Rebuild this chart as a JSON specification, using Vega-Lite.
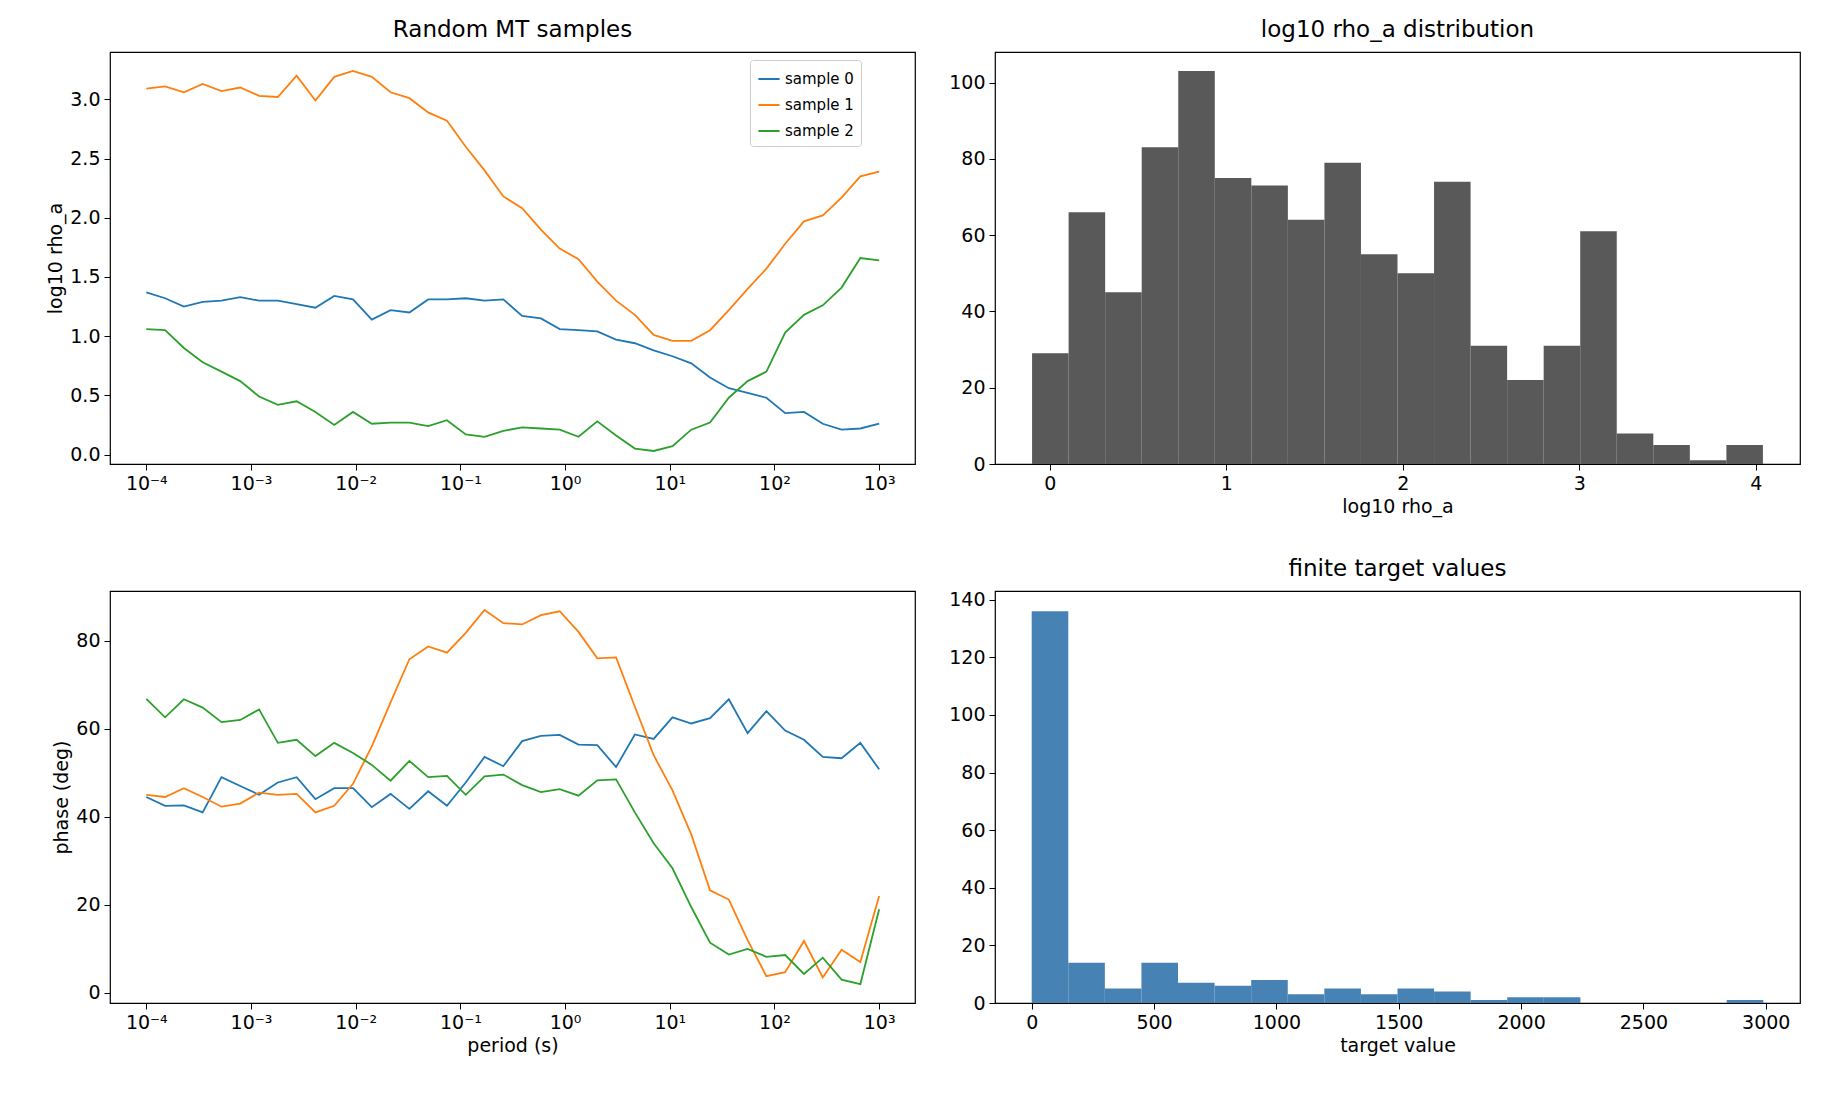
{
  "$schema": "https://vega.github.io/schema/vega-lite/v6.json",
  "background": "white",
  "padding": {"left": 46, "top": 18, "right": 12, "bottom": 5},
  "spacing": 40,
  "datasets": {
    "rho": [
      {"p": 0.0001, "sample 0": 1.37, "sample 1": 3.09, "sample 2": 1.06},
      {"p": 0.0001512, "sample 0": 1.32, "sample 1": 3.11, "sample 2": 1.05},
      {"p": 0.0002285, "sample 0": 1.25, "sample 1": 3.06, "sample 2": 0.90},
      {"p": 0.0003455, "sample 0": 1.29, "sample 1": 3.13, "sample 2": 0.78},
      {"p": 0.0005223, "sample 0": 1.30, "sample 1": 3.07, "sample 2": 0.70},
      {"p": 0.0007896, "sample 0": 1.33, "sample 1": 3.10, "sample 2": 0.62},
      {"p": 0.001194, "sample 0": 1.30, "sample 1": 3.03, "sample 2": 0.49},
      {"p": 0.001805, "sample 0": 1.30, "sample 1": 3.02, "sample 2": 0.42},
      {"p": 0.002728, "sample 0": 1.27, "sample 1": 3.20, "sample 2": 0.45},
      {"p": 0.004125, "sample 0": 1.24, "sample 1": 2.99, "sample 2": 0.36},
      {"p": 0.006236, "sample 0": 1.34, "sample 1": 3.19, "sample 2": 0.25},
      {"p": 0.009427, "sample 0": 1.31, "sample 1": 3.24, "sample 2": 0.36},
      {"p": 0.01425, "sample 0": 1.14, "sample 1": 3.19, "sample 2": 0.26},
      {"p": 0.02154, "sample 0": 1.22, "sample 1": 3.06, "sample 2": 0.27},
      {"p": 0.03257, "sample 0": 1.20, "sample 1": 3.01, "sample 2": 0.27},
      {"p": 0.04924, "sample 0": 1.31, "sample 1": 2.89, "sample 2": 0.24},
      {"p": 0.07443, "sample 0": 1.31, "sample 1": 2.82, "sample 2": 0.29},
      {"p": 0.1125, "sample 0": 1.32, "sample 1": 2.60, "sample 2": 0.17},
      {"p": 0.1701, "sample 0": 1.30, "sample 1": 2.40, "sample 2": 0.15},
      {"p": 0.2572, "sample 0": 1.31, "sample 1": 2.18, "sample 2": 0.20},
      {"p": 0.3888, "sample 0": 1.17, "sample 1": 2.08, "sample 2": 0.23},
      {"p": 0.5878, "sample 0": 1.15, "sample 1": 1.90, "sample 2": 0.22},
      {"p": 0.8886, "sample 0": 1.06, "sample 1": 1.74, "sample 2": 0.21},
      {"p": 1.3434, "sample 0": 1.05, "sample 1": 1.65, "sample 2": 0.15},
      {"p": 2.031, "sample 0": 1.04, "sample 1": 1.46, "sample 2": 0.28},
      {"p": 3.070, "sample 0": 0.97, "sample 1": 1.30, "sample 2": 0.16},
      {"p": 4.642, "sample 0": 0.94, "sample 1": 1.18, "sample 2": 0.05},
      {"p": 7.017, "sample 0": 0.88, "sample 1": 1.01, "sample 2": 0.03},
      {"p": 10.61, "sample 0": 0.83, "sample 1": 0.96, "sample 2": 0.07},
      {"p": 16.04, "sample 0": 0.77, "sample 1": 0.96, "sample 2": 0.21},
      {"p": 24.24, "sample 0": 0.65, "sample 1": 1.05, "sample 2": 0.27},
      {"p": 36.65, "sample 0": 0.56, "sample 1": 1.22, "sample 2": 0.48},
      {"p": 55.41, "sample 0": 0.52, "sample 1": 1.40, "sample 2": 0.62},
      {"p": 83.77, "sample 0": 0.48, "sample 1": 1.57, "sample 2": 0.70},
      {"p": 126.6, "sample 0": 0.35, "sample 1": 1.78, "sample 2": 1.03},
      {"p": 191.4, "sample 0": 0.36, "sample 1": 1.97, "sample 2": 1.18},
      {"p": 289.4, "sample 0": 0.26, "sample 1": 2.02, "sample 2": 1.26},
      {"p": 437.5, "sample 0": 0.21, "sample 1": 2.17, "sample 2": 1.41},
      {"p": 661.4, "sample 0": 0.22, "sample 1": 2.35, "sample 2": 1.66},
      {"p": 1000, "sample 0": 0.26, "sample 1": 2.39, "sample 2": 1.64}
    ],
    "phase": [
      {"p": 0.0001, "sample 0": 44.5, "sample 1": 45.0, "sample 2": 66.8},
      {"p": 0.0001512, "sample 0": 42.5, "sample 1": 44.5, "sample 2": 62.6},
      {"p": 0.0002285, "sample 0": 42.6, "sample 1": 46.5, "sample 2": 66.7},
      {"p": 0.0003455, "sample 0": 41.0, "sample 1": 44.5, "sample 2": 64.8},
      {"p": 0.0005223, "sample 0": 49.0, "sample 1": 42.3, "sample 2": 61.5},
      {"p": 0.0007896, "sample 0": 47.0, "sample 1": 43.0, "sample 2": 62.0},
      {"p": 0.001194, "sample 0": 45.0, "sample 1": 45.5, "sample 2": 64.4},
      {"p": 0.001805, "sample 0": 47.8, "sample 1": 45.0, "sample 2": 56.8},
      {"p": 0.002728, "sample 0": 49.0, "sample 1": 45.2, "sample 2": 57.5},
      {"p": 0.004125, "sample 0": 44.0, "sample 1": 41.0, "sample 2": 53.8},
      {"p": 0.006236, "sample 0": 46.5, "sample 1": 42.5, "sample 2": 56.8},
      {"p": 0.009427, "sample 0": 46.5, "sample 1": 47.5, "sample 2": 54.5},
      {"p": 0.01425, "sample 0": 42.2, "sample 1": 56.0, "sample 2": 51.8},
      {"p": 0.02154, "sample 0": 45.2, "sample 1": 66.0, "sample 2": 48.2},
      {"p": 0.03257, "sample 0": 41.8, "sample 1": 75.8, "sample 2": 52.7},
      {"p": 0.04924, "sample 0": 45.8, "sample 1": 78.7, "sample 2": 49.0},
      {"p": 0.07443, "sample 0": 42.5, "sample 1": 77.3, "sample 2": 49.3},
      {"p": 0.1125, "sample 0": 47.8, "sample 1": 81.8, "sample 2": 45.0},
      {"p": 0.1701, "sample 0": 53.6, "sample 1": 87.0, "sample 2": 49.2},
      {"p": 0.2572, "sample 0": 51.5, "sample 1": 84.0, "sample 2": 49.6},
      {"p": 0.3888, "sample 0": 57.2, "sample 1": 83.7, "sample 2": 47.2},
      {"p": 0.5878, "sample 0": 58.4, "sample 1": 85.8, "sample 2": 45.6},
      {"p": 0.8886, "sample 0": 58.6, "sample 1": 86.7, "sample 2": 46.3},
      {"p": 1.3434, "sample 0": 56.4, "sample 1": 82.0, "sample 2": 44.8},
      {"p": 2.031, "sample 0": 56.3, "sample 1": 76.0, "sample 2": 48.3},
      {"p": 3.070, "sample 0": 51.3, "sample 1": 76.2, "sample 2": 48.5},
      {"p": 4.642, "sample 0": 58.7, "sample 1": 65.0, "sample 2": 41.0},
      {"p": 7.017, "sample 0": 57.7, "sample 1": 54.0, "sample 2": 34.0},
      {"p": 10.61, "sample 0": 62.6, "sample 1": 46.0, "sample 2": 28.3},
      {"p": 16.04, "sample 0": 61.2, "sample 1": 36.0, "sample 2": 19.5},
      {"p": 24.24, "sample 0": 62.4, "sample 1": 23.3, "sample 2": 11.4},
      {"p": 36.65, "sample 0": 66.7, "sample 1": 21.2, "sample 2": 8.7},
      {"p": 55.41, "sample 0": 59.0, "sample 1": 12.0, "sample 2": 10.0},
      {"p": 83.77, "sample 0": 64.0, "sample 1": 3.8, "sample 2": 8.2},
      {"p": 126.6, "sample 0": 59.6, "sample 1": 4.7, "sample 2": 8.6},
      {"p": 191.4, "sample 0": 57.5, "sample 1": 11.8, "sample 2": 4.3},
      {"p": 289.4, "sample 0": 53.6, "sample 1": 3.5, "sample 2": 8.0},
      {"p": 437.5, "sample 0": 53.3, "sample 1": 9.8, "sample 2": 3.0},
      {"p": 661.4, "sample 0": 56.8, "sample 1": 7.0, "sample 2": 2.0},
      {"p": 1000, "sample 0": 50.8, "sample 1": 22.0, "sample 2": 19.0}
    ],
    "rhohist": [
      {"a": -0.10, "b": 0.107, "n": 29}, {"a": 0.107, "b": 0.314, "n": 66},
      {"a": 0.314, "b": 0.521, "n": 45}, {"a": 0.521, "b": 0.728, "n": 83},
      {"a": 0.728, "b": 0.935, "n": 103}, {"a": 0.935, "b": 1.142, "n": 75},
      {"a": 1.142, "b": 1.349, "n": 73}, {"a": 1.349, "b": 1.556, "n": 64},
      {"a": 1.556, "b": 1.763, "n": 79}, {"a": 1.763, "b": 1.970, "n": 55},
      {"a": 1.970, "b": 2.177, "n": 50}, {"a": 2.177, "b": 2.384, "n": 74},
      {"a": 2.384, "b": 2.591, "n": 31}, {"a": 2.591, "b": 2.798, "n": 22},
      {"a": 2.798, "b": 3.005, "n": 31}, {"a": 3.005, "b": 3.212, "n": 61},
      {"a": 3.212, "b": 3.419, "n": 8}, {"a": 3.419, "b": 3.626, "n": 5},
      {"a": 3.626, "b": 3.833, "n": 1}, {"a": 3.833, "b": 4.04, "n": 5}
    ],
    "targethist": [
      {"a": 0, "b": 149.5, "n": 136}, {"a": 149.5, "b": 299, "n": 14},
      {"a": 299, "b": 448.5, "n": 5}, {"a": 448.5, "b": 598, "n": 14},
      {"a": 598, "b": 747.5, "n": 7}, {"a": 747.5, "b": 897, "n": 6},
      {"a": 897, "b": 1046.5, "n": 8}, {"a": 1046.5, "b": 1196, "n": 3},
      {"a": 1196, "b": 1345.5, "n": 5}, {"a": 1345.5, "b": 1495, "n": 3},
      {"a": 1495, "b": 1644.5, "n": 5}, {"a": 1644.5, "b": 1794, "n": 4},
      {"a": 1794, "b": 1943.5, "n": 1}, {"a": 1943.5, "b": 2093, "n": 2},
      {"a": 2093, "b": 2242.5, "n": 2}, {"a": 2242.5, "b": 2392, "n": 0},
      {"a": 2392, "b": 2541.5, "n": 0}, {"a": 2541.5, "b": 2691, "n": 0},
      {"a": 2691, "b": 2840.5, "n": 0}, {"a": 2840.5, "b": 2990, "n": 1}
    ]
  },
  "vconcat": [
    {
      "spacing": 32,
      "hconcat": [
        {
          "title": "Random MT samples",
          "width": 805, "height": 412,
          "data": {"name": "rho"},
          "transform": [{"fold": ["sample 0", "sample 1", "sample 2"], "as": ["sample", "v"]}],
          "mark": {"type": "line", "strokeWidth": 1.8},
          "encoding": {
            "x": {"field": "p", "type": "quantitative", "title": null,
              "scale": {"type": "log", "domain": [0.000045, 2200], "nice": false},
              "axis": {"values": [0.0001, 0.001, 0.01, 0.1, 1, 10, 100, 1000],
                "labelExpr": "['10⁻⁴','10⁻³','10⁻²','10⁻¹','10⁰','10¹','10²','10³'][round(log(datum.value)/LN10)+4]"}},
            "y": {"field": "v", "type": "quantitative", "title": "log10 rho_a",
              "scale": {"domain": [-0.08, 3.4], "nice": false},
              "axis": {"values": [0, 0.5, 1, 1.5, 2, 2.5, 3], "format": ".1f"}},
            "color": {"field": "sample", "type": "nominal", "title": null,
              "scale": {"range": ["#1f77b4", "#ff7f0e", "#2ca02c"]},
              "legend": {"orient": "none", "legendX": 640, "legendY": 8, "symbolType": "stroke", "symbolStrokeWidth": 2,
                "strokeColor": "#cccccc", "padding": 7, "fillColor": "white", "labelFontSize": 15, "symbolSize": 450, "rowPadding": 6, "cornerRadius": 3}}
          }
        },
        {
          "title": "log10 rho_a distribution",
          "width": 805, "height": 412,
          "data": {"name": "rhohist"},
          "mark": {"type": "rect", "color": "#595959", "strokeWidth": 0},
          "encoding": {
            "x": {"field": "a", "type": "quantitative", "title": "log10 rho_a",
              "scale": {"domain": [-0.31, 4.25], "nice": false},
              "axis": {"values": [0, 1, 2, 3, 4]}},
            "x2": {"field": "b"},
            "y": {"field": "n", "type": "quantitative", "title": null,
              "scale": {"domain": [0, 108], "nice": false},
              "axis": {"values": [0, 20, 40, 60, 80, 100]}},
            "y2": {"datum": 0}
          }
        }
      ]
    },
    {
      "spacing": 32,
      "hconcat": [
        {
          "width": 805, "height": 412,
          "data": {"name": "phase"},
          "transform": [{"fold": ["sample 0", "sample 1", "sample 2"], "as": ["sample", "v"]}],
          "mark": {"type": "line", "strokeWidth": 1.8},
          "encoding": {
            "x": {"field": "p", "type": "quantitative", "title": "period (s)",
              "scale": {"type": "log", "domain": [0.000045, 2200], "nice": false},
              "axis": {"values": [0.0001, 0.001, 0.01, 0.1, 1, 10, 100, 1000],
                "labelExpr": "['10⁻⁴','10⁻³','10⁻²','10⁻¹','10⁰','10¹','10²','10³'][round(log(datum.value)/LN10)+4]"}},
            "y": {"field": "v", "type": "quantitative", "title": "phase (deg)",
              "scale": {"domain": [-2.3, 91.3], "nice": false},
              "axis": {"values": [0, 20, 40, 60, 80]}},
            "color": {"field": "sample", "type": "nominal", "legend": null,
              "scale": {"range": ["#1f77b4", "#ff7f0e", "#2ca02c"]}}
          }
        },
        {
          "title": "finite target values",
          "width": 805, "height": 412,
          "data": {"name": "targethist"},
          "mark": {"type": "rect", "color": "#4682b4", "strokeWidth": 0},
          "encoding": {
            "x": {"field": "a", "type": "quantitative", "title": "target value",
              "scale": {"domain": [-150, 3140], "nice": false},
              "axis": {"values": [0, 500, 1000, 1500, 2000, 2500, 3000], "format": "d"}},
            "x2": {"field": "b"},
            "y": {"field": "n", "type": "quantitative", "title": null,
              "scale": {"domain": [0, 143], "nice": false},
              "axis": {"values": [0, 20, 40, 60, 80, 100, 120, 140]}},
            "y2": {"datum": 0}
          }
        }
      ]
    }
  ],
  "config": {
    "font": "DejaVu Sans",
    "view": {"stroke": "black", "strokeWidth": 1.2},
    "title": {"fontSize": 23, "fontWeight": "normal", "offset": 10},
    "axis": {"grid": false, "domain": false, "tickColor": "black", "tickSize": 6,
      "labelFontSize": 19, "labelColor": "black", "titleFontSize": 19,
      "titleFontWeight": "normal", "titleColor": "black", "labelPadding": 4},
    "axisX": {"labelFlush": false},
    "axisY": {"labelFlush": false}
  }
}
